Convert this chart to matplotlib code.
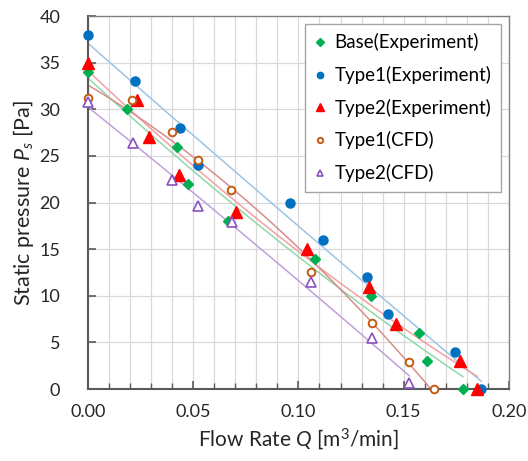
import matplotlib
matplotlib.use("Agg")
import matplotlib.pyplot as plt
import numpy as np
from matplotlib.ticker import MultipleLocator, FormatStrFormatter

plt.rcParams["font.family"] = ["Lato", "DejaVu Sans"]
plt.rcParams["mathtext.fontset"] = "custom"
plt.rcParams["mathtext.rm"] = "Lato"
plt.rcParams["mathtext.it"] = "Lato:italic"

# flow rate Q [m3/min] and static pressure Ps [Pa]
base_q = [0.000, 0.0184, 0.0424, 0.0473, 0.0665, 0.1078, 0.1346, 0.1571, 0.1613, 0.1781]
base_p = [34, 30, 26, 22, 18, 14, 10, 6, 3, 0]

type1_q = [0.000, 0.0222, 0.0437, 0.0524, 0.096, 0.1117, 0.1327, 0.1424, 0.1743, 0.1869]
type1_p = [38, 33, 28, 24, 20, 16, 12, 8, 4, 0]

type2_q = [0.000, 0.0234, 0.0291, 0.0434, 0.0701, 0.1042, 0.1337, 0.1465, 0.1766, 0.185]
type2_p = [35, 31, 27, 23, 19, 15, 11, 7, 3, 0]

cfd_q1 = [0.000, 0.021, 0.0398, 0.0521, 0.0681, 0.1058, 0.1348, 0.1527, 0.1644]
cfd_p1 = [31.2, 31.0, 27.6, 24.6, 21.4, 12.6, 7.1, 2.9, 0.0]

cfd_q2 = [0.000, 0.0212, 0.0398, 0.0521, 0.0686, 0.1058, 0.1348, 0.1527]
cfd_p2 = [30.8, 26.4, 22.4, 19.6, 17.9, 11.5, 5.5, 0.6]

series = [
    ("Base(Experiment)", base_q, base_p, dict(marker="D", color="#00b050", ms=5.5, mfc="#00b050"), "#8fd9a8"),
    ("Type1(Experiment)", type1_q, type1_p, dict(marker="o", color="#0070c0", ms=6.5, mfc="#0070c0"), "#9dc3e6"),
    ("Type2(Experiment)", type2_q, type2_p, dict(marker="^", color="#ff0000", ms=8.5, mfc="#ff0000"), "#f4a0a0"),
    ("Type1(CFD)", cfd_q1, cfd_p1, dict(marker="o", color="#c55a11", ms=5.5, mfc="white", mew=1.4), "#d98c8c"),
    ("Type2(CFD)", cfd_q2, cfd_p2, dict(marker="^", color="#8a50c0", ms=7, mfc="white", mew=1.2), "#c0a0dc"),
]

fig = plt.figure(figsize=(5.28, 4.61), dpi=100)
ax = fig.add_axes([0.1667, 0.156, 0.797, 0.809])

# polynomial trendlines (2nd order)
for label, q, p, style, tcolor in series:
    coef = np.polyfit(q, p, 2)
    xs = np.linspace(min(q), max(q), 200)
    ax.plot(xs, np.polyval(coef, xs), color=tcolor, lw=1.1, zorder=2)

handles = []
for label, q, p, style, tcolor in series:
    h, = ax.plot(q, p, ls="none", label=label, zorder=3, clip_on=False, **style)
    handles.append(h)

ax.set_xlim(0, 0.20)
ax.set_ylim(0, 40)
ax.xaxis.set_major_locator(MultipleLocator(0.05))
ax.xaxis.set_minor_locator(MultipleLocator(0.01))
ax.yaxis.set_major_locator(MultipleLocator(5))
ax.xaxis.set_major_formatter(FormatStrFormatter("%.2f"))
ax.grid(which="both", axis="x", color="#d9d9d9", lw=0.9)
ax.grid(which="major", axis="y", color="#d9d9d9", lw=0.9)
ax.set_axisbelow(True)
ax.tick_params(which="both", direction="in", labelsize=13, colors="#595959",
               labelcolor="#262626", top=False, right=False)
ax.tick_params(which="major", length=6, width=1.2)
ax.tick_params(which="minor", length=4, width=1.0)
ax.tick_params(axis="x", which="major", pad=11)
ax.tick_params(axis="y", which="major", pad=20)
for side in ["left", "bottom"]:
    ax.spines[side].set_color("#595959")
    ax.spines[side].set_linewidth(1.5)
for side in ["top", "right"]:
    ax.spines[side].set_color("#808080")
    ax.spines[side].set_linewidth(1.0)

ax.set_xlabel("Flow Rate $Q$ [m$^3$/min]", fontsize=15, color="#262626", labelpad=4)
ax.set_ylabel("Static pressure $P_s$ [Pa]", fontsize=15.5, color="#262626", labelpad=2)

leg = ax.legend(handles=handles, loc="upper right", fontsize=13.5, markerscale=0.7,
                handlelength=0.6, handletextpad=0.5, labelspacing=0.78,
                borderpad=0.5, borderaxespad=0, fancybox=False, framealpha=1,
                edgecolor="#a6a6a6", bbox_to_anchor=(0.981, 0.979))
leg.get_frame().set_linewidth(1.0)

fig.savefig("out.png", dpi=100)
